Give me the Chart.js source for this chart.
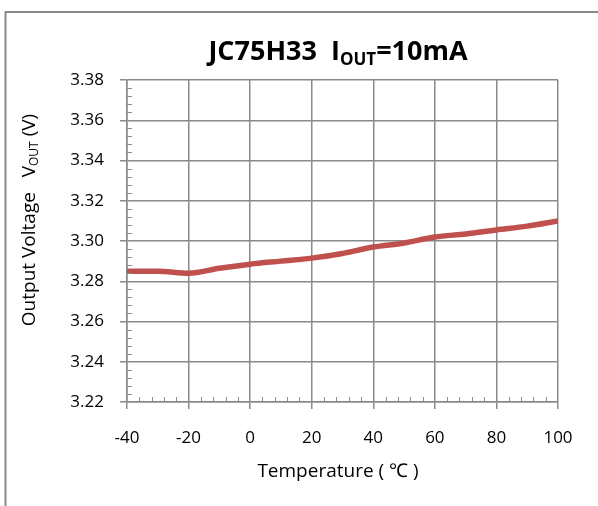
<!DOCTYPE html>
<html lang="en">
<head>
    <meta charset="UTF-8">
    <script src="https://cdn.jsdelivr.net/npm/chart.js"></script>
    <title>JC75H33 Vout vs Temperature</title>
    <style>
        body { margin: 0; background: #fff; }
    </style>
</head>
<body>
    <canvas id="voutChart" width="598" height="506"></canvas>

<script>
    // data
    const temps = [-40, -30, -20, -10, 0, 10, 20, 30, 40, 50, 60, 70, 80, 90, 100];
    const vout = [3.285, 3.285, 3.284, 3.2865, 3.2885, 3.290, 3.2915, 3.2938, 3.297, 3.299, 3.302, 3.3035, 3.3055, 3.3074, 3.310];
    const xTicks = [-40, -20, 0, 20, 40, 60, 80, 100];
    const yTicks = [3.22, 3.24, 3.26, 3.28, 3.30, 3.32, 3.34, 3.36, 3.38];

    const gray = '#8a8a8a';
    const fontFamily = '"Open Sans", sans-serif';

    // draws text pieces in a row, some of them as subscript
    function drawParts(ctx, parts) {
        let w = 0;
        parts.forEach(p => { ctx.font = p.font; w += ctx.measureText(p.text).width; });
        let x = -w / 2;
        parts.forEach(p => {
            ctx.font = p.font;
            ctx.fillText(p.text, x, p.dy || 0);
            x += ctx.measureText(p.text).width;
        });
    }

    const decor = {
        id: 'decor',
        afterDraw(chart) {
            const ctx = chart.ctx;
            const xs = chart.scales.x;
            const ys = chart.scales.y;
            const area = chart.chartArea;
            ctx.save();

            // outer frame (cut off on right and bottom)
            ctx.strokeStyle = gray;
            ctx.lineWidth = 2;
            ctx.beginPath();
            ctx.moveTo(5.5, 506);
            ctx.lineTo(5.5, 12);
            ctx.lineTo(598, 12);
            ctx.stroke();

            // minor ticks, pointing inside
            ctx.lineWidth = 1;
            ctx.beginPath();
            for (let t = xs.min; t <= xs.max; t += 4) {
                if (t % 20 === 0) continue;
                const px = Math.round(xs.getPixelForValue(t)) + 0.5;
                ctx.moveTo(px, area.bottom);
                ctx.lineTo(px, area.bottom - 5);
            }
            for (let i = 0; i <= 40; i++) {
                if (i % 5 === 0) continue;
                const v = ys.min + i * 0.004;
                const py = Math.round(ys.getPixelForValue(v)) + 0.5;
                ctx.moveTo(area.left, py);
                ctx.lineTo(area.left + 5, py);
            }
            ctx.stroke();

            ctx.fillStyle = '#000';
            ctx.textBaseline = 'alphabetic';
            ctx.textAlign = 'left';

            // title
            ctx.save();
            ctx.translate(338, 60);
            drawParts(ctx, [
                { text: 'JC75H33  I', font: 'bold 27px ' + fontFamily },
                { text: 'OUT', font: 'bold 17px ' + fontFamily, dy: 5 },
                { text: '=10mA', font: 'bold 27px ' + fontFamily }
            ]);
            ctx.restore();

            // y axis title
            ctx.save();
            ctx.translate(35, 220);
            ctx.rotate(-Math.PI / 2);
            drawParts(ctx, [
                { text: 'Output Voltage   V', font: '19px ' + fontFamily },
                { text: 'OUT', font: '12px ' + fontFamily, dy: 3 },
                { text: ' (V)', font: '19px ' + fontFamily }
            ]);
            ctx.restore();

            // x axis title
            ctx.save();
            ctx.translate(338, 477);
            drawParts(ctx, [
                { text: 'Temperature ( \u2103 )', font: '19px ' + fontFamily }
            ]);
            ctx.restore();

            ctx.restore();
        }
    };

    const ctx = document.getElementById('voutChart').getContext('2d');
    new Chart(ctx, {
        type: 'line',
        data: {
            datasets: [{
                label: 'VOUT',
                data: temps.map((t, i) => ({ x: t, y: vout[i] })),
                borderColor: '#C0504D',
                backgroundColor: '#C0504D',
                borderWidth: 5.5,
                pointRadius: 0,
                tension: 0.4,
                cubicInterpolationMode: 'monotone'
            }]
        },
        options: {
            responsive: false,
            animation: false,
            devicePixelRatio: 1,
            layout: {
                padding: { top: 80, right: 40, left: 0, bottom: 0 }
            },
            plugins: {
                legend: { display: false },
                tooltip: { enabled: false },
                title: { display: false }
            },
            scales: {
                x: {
                    type: 'linear',
                    min: xTicks[0],
                    max: xTicks[xTicks.length - 1],
                    afterBuildTicks: scale => { scale.ticks = xTicks.map(v => ({ value: v })); },
                    afterFit: scale => { scale.height = 104; },
                    grid: { color: gray, lineWidth: 1.5, tickLength: 7 },
                    border: { color: gray, width: 1.5 },
                    ticks: {
                        color: '#000',
                        padding: 19,
                        maxRotation: 0,
                        font: { family: fontFamily, size: 17 }
                    }
                },
                y: {
                    min: yTicks[0],
                    max: yTicks[yTicks.length - 1],
                    afterBuildTicks: scale => { scale.ticks = yTicks.map(v => ({ value: v })); },
                    afterFit: scale => { scale.width = 127; },
                    grid: { color: gray, lineWidth: 1.5, tickLength: 7 },
                    border: { color: gray, width: 1.5 },
                    ticks: {
                        color: '#000',
                        padding: 16,
                        font: { family: fontFamily, size: 17 },
                        callback: v => Number(v).toFixed(2)
                    }
                }
            }
        },
        plugins: [decor]
    });
</script>
</body>
</html>
